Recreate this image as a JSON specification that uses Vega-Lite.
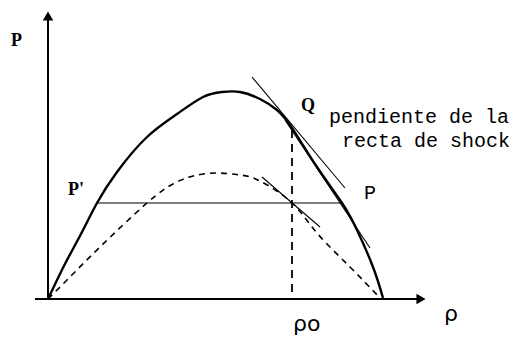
{
  "$schema": "https://vega.github.io/schema/vega-lite/v6.json",
  "width": 518,
  "height": 339,
  "padding": 0,
  "autosize": {"type": "fit", "contains": "padding"},
  "background": "white",
  "config": {"view": {"stroke": null}},
  "datasets": {
    "solid": [
      {"x": 48, "y": 299}, {"x": 58, "y": 278}, {"x": 67, "y": 260}, {"x": 82, "y": 232},
      {"x": 97, "y": 203}, {"x": 117, "y": 172}, {"x": 147, "y": 137}, {"x": 177, "y": 114},
      {"x": 203, "y": 97}, {"x": 222, "y": 92}, {"x": 240, "y": 92}, {"x": 260, "y": 99},
      {"x": 277, "y": 110}, {"x": 292, "y": 128}, {"x": 317, "y": 167}, {"x": 342, "y": 203},
      {"x": 357, "y": 230}, {"x": 373, "y": 267}, {"x": 383, "y": 298}
    ],
    "dashed": [
      {"x": 48, "y": 299}, {"x": 67, "y": 280}, {"x": 100, "y": 247}, {"x": 147, "y": 203},
      {"x": 173, "y": 184}, {"x": 193, "y": 176}, {"x": 217, "y": 173}, {"x": 240, "y": 175},
      {"x": 260, "y": 181}, {"x": 292, "y": 203}, {"x": 317, "y": 233}, {"x": 350, "y": 267},
      {"x": 380, "y": 298}
    ],
    "thin": [
      {"seg": "chord", "x": 97, "y": 203}, {"seg": "chord", "x": 342, "y": 203},
      {"seg": "tangentQ", "x": 252, "y": 77}, {"seg": "tangentQ", "x": 345, "y": 188},
      {"seg": "secant", "x": 285, "y": 120}, {"seg": "secant", "x": 370, "y": 248},
      {"seg": "tangentDash", "x": 262, "y": 177}, {"seg": "tangentDash", "x": 320, "y": 227}
    ],
    "axes": [
      {"seg": "v", "x": 48, "y": 299}, {"seg": "v", "x": 48, "y": 20},
      {"seg": "h", "x": 35, "y": 299}, {"seg": "h", "x": 418, "y": 299}
    ],
    "vdash": [{"x": 292, "y": 130}, {"x": 292, "y": 298}],
    "arrows": [
      {"shape": "triangle-up", "x": 48, "y": 16},
      {"shape": "triangle-right", "x": 421, "y": 299}
    ],
    "labels": [
      {"text": "P", "x": 11, "y": 46, "font": "serif"},
      {"text": "P'", "x": 68, "y": 195, "font": "serif"},
      {"text": "Q", "x": 301, "y": 111, "font": "serif"},
      {"text": "P", "x": 364, "y": 199, "font": "mono"},
      {"text": "pendiente de la", "x": 329, "y": 123, "font": "mono"},
      {"text": "recta de shock", "x": 342, "y": 147, "font": "mono"},
      {"text": "ρ", "x": 444, "y": 321, "font": "greek"},
      {"text": "ρo", "x": 293, "y": 331, "font": "greek"}
    ]
  },
  "encoding": {
    "x": {"field": "x", "type": "quantitative", "scale": {"domain": [0, 518], "nice": false, "zero": false}, "axis": null},
    "y": {"field": "y", "type": "quantitative", "scale": {"domain": [0, 339], "nice": false, "zero": false, "reverse": true}, "axis": null}
  },
  "layer": [
    {
      "data": {"name": "axes"},
      "mark": {"type": "line", "color": "black", "strokeWidth": 2},
      "encoding": {"detail": {"field": "seg"}, "order": {"field": "y"}}
    },
    {
      "data": {"name": "arrows"},
      "mark": {"type": "point", "filled": true, "color": "black", "opacity": 1, "size": 110},
      "encoding": {"shape": {"field": "shape", "type": "nominal", "scale": null}}
    },
    {
      "data": {"name": "solid"},
      "mark": {"type": "line", "color": "black", "strokeWidth": 2.4, "interpolate": "natural"},
      "encoding": {"order": {"field": "x"}}
    },
    {
      "data": {"name": "dashed"},
      "mark": {"type": "line", "color": "black", "strokeWidth": 1.6, "strokeDash": [6, 5], "interpolate": "natural"},
      "encoding": {"order": {"field": "x"}}
    },
    {
      "data": {"name": "thin"},
      "mark": {"type": "line", "color": "black", "strokeWidth": 1.1},
      "encoding": {"detail": {"field": "seg"}}
    },
    {
      "data": {"name": "vdash"},
      "mark": {"type": "line", "color": "black", "strokeWidth": 1.8, "strokeDash": [8, 6]},
      "encoding": {"order": {"field": "y"}}
    },
    {
      "data": {"name": "labels"},
      "transform": [{"filter": "datum.font == 'serif'"}],
      "mark": {"type": "text", "align": "left", "baseline": "alphabetic", "font": "Liberation Serif", "fontWeight": "bold", "fontSize": 18, "color": "black"},
      "encoding": {"text": {"field": "text"}}
    },
    {
      "data": {"name": "labels"},
      "transform": [{"filter": "datum.font == 'mono'"}],
      "mark": {"type": "text", "align": "left", "baseline": "alphabetic", "font": "Liberation Mono", "fontSize": 20, "color": "black"},
      "encoding": {"text": {"field": "text"}}
    },
    {
      "data": {"name": "labels"},
      "transform": [{"filter": "datum.font == 'greek'"}],
      "mark": {"type": "text", "align": "left", "baseline": "alphabetic", "font": "DejaVu Sans", "fontSize": 22, "color": "black"},
      "encoding": {"text": {"field": "text"}}
    }
  ]
}
